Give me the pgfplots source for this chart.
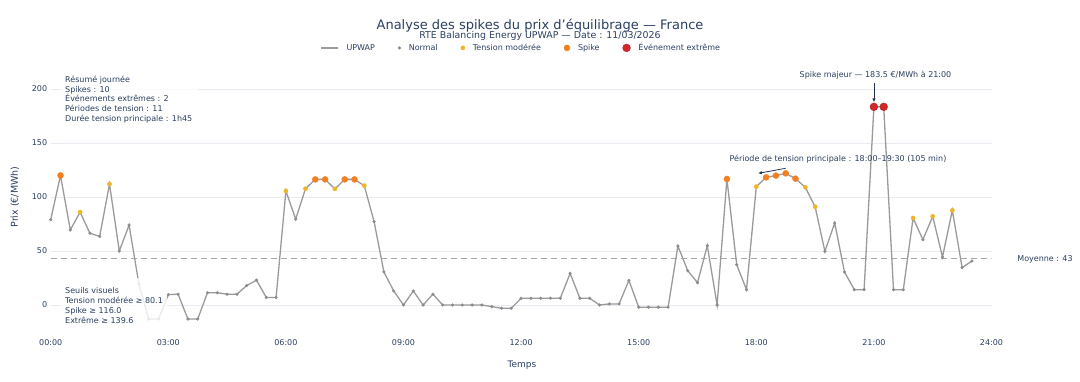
\documentclass[border=0pt]{standalone}
\usepackage{fontspec}
\setmainfont{DejaVu Sans}
\usepackage{pgfplots}
\pgfplotsset{compat=1.18}
\usepackage{pgfplotstable}
\usetikzlibrary{arrows.meta}
\definecolor{textc}{HTML}{2A3F5F}
\definecolor{gridc}{HTML}{E8ECF2}
\definecolor{linec}{HTML}{9A9A9A}
\definecolor{normc}{HTML}{8C8C8C}
\definecolor{tensc}{HTML}{F0B429}
\definecolor{spikec}{HTML}{F57F1E}
\definecolor{extc}{HTML}{D62728}
\definecolor{extd}{HTML}{A81E1E}
\definecolor{meanc}{HTML}{A8A8A8}

\pgfplotstableread{
t v c
0.00 79 n
0.25 120 s
0.50 69.5 n
0.75 86 t
1.00 66.5 n
1.25 63.5 n
1.50 112 t
1.75 50 n
2.00 74 n
2.25 19.5 n
2.50 -13 n
2.75 -13 n
3.00 9.6 n
3.25 10 n
3.50 -13 n
3.75 -13 n
4.00 11.4 n
4.25 11.4 n
4.50 10 n
4.75 10 n
5.00 18 n
5.25 23 n
5.50 7 n
5.75 7 n
6.00 105.6 t
6.25 79.5 n
6.50 107.7 t
6.75 116.3 s
7.00 116.3 s
7.25 107.5 t
7.50 116.3 s
7.75 116.3 s
8.00 110.5 t
8.25 77.2 n
8.50 30.6 n
8.75 13 n
9.00 0 n
9.25 13 n
9.50 0 n
9.75 10 n
10.00 0 n
10.25 0 n
10.50 0 n
10.75 0 n
11.00 0 n
11.25 -1.5 n
11.50 -3 n
11.75 -3 n
12.00 6.2 n
12.25 6.2 n
12.50 6.2 n
12.75 6.2 n
13.00 6.2 n
13.25 29.3 n
13.50 6.2 n
13.75 6.2 n
14.00 0 n
14.25 1 n
14.50 1 n
14.75 22.8 n
15.00 -2 n
15.25 -2 n
15.50 -2 n
15.75 -2 n
16.00 54.6 n
16.25 31.8 n
16.50 20.7 n
16.75 54.9 n
17.00 0 n
17.25 116.7 s
17.50 37.3 n
17.75 14.2 n
18.00 109.6 t
18.25 118.2 s
18.50 119.8 s
18.75 121.9 s
19.00 117 s
19.25 109 t
19.50 91 t
19.75 49.7 n
20.00 75.9 n
20.25 30.6 n
20.50 14.2 n
20.75 14.2 n
21.00 183.5 e
21.25 183.5 e
21.50 14.2 n
21.75 14.2 n
22.00 80.5 t
22.25 60.5 n
22.50 82.1 t
22.75 44.4 n
23.00 87.7 t
23.25 34.6 n
23.50 40.7 n
}\upwap

\begin{document}
\begin{tikzpicture}
\path[use as bounding box] (0pt,0pt) rectangle (1080pt,381pt);
\begin{axis}[
  at={(50.7pt,49pt)}, anchor=south west, scale only axis,
  width=940.8pt, height=259.2pt,
  xmin=0, xmax=24, ymin=-25, ymax=215,
  axis line style={draw=none}, tick style={draw=none},
  xtick={0,3,...,24},
  xticklabels={00:00,03:00,06:00,09:00,12:00,15:00,18:00,21:00,24:00},
  ytick={0,50,100,150,200},
  ymajorgrids, grid style={gridc, line width=0.8pt},
  tick label style={font=\fontsize{8}{9.6}\selectfont, text=textc},
  xticklabel style={yshift=-4pt},
  /pgf/number format/assume math mode=true,
  legend columns=5,
  legend style={draw=none, fill=none, at={(0.5,1.096)}, anchor=center,
    font=\fontsize{8}{9.6}\selectfont, text=textc,
    /tikz/every odd column/.append style={column sep=6pt},
    /tikz/every even column/.append style={column sep=21pt}},
]
\addplot[meanc, line width=0.9pt, dash pattern=on 6pt off 4pt, forget plot] coordinates {(0,43) (24,43)};
\addplot[linec, line width=1.3pt, no markers, forget plot] table[x=t,y=v]{\upwap};
\addplot[scatter, only marks, scatter src=explicit symbolic, forget plot,
  scatter/classes={
    n={mark=*, mark size=1.4pt, draw=normc, fill=normc},
    t={mark=*, mark size=2.1pt, draw=tensc, fill=tensc},
    s={mark=*, mark size=3pt, draw=spikec, fill=spikec},
    e={mark=*, mark size=3.9pt, draw=extd, fill=extc}}
  ] table[x=t,y=v,meta=c]{\upwap};
\addlegendimage{linec, line width=1.3pt}
\addlegendentry{UPWAP}
\addlegendimage{only marks, mark=*, mark size=1.4pt, draw=normc, fill=normc}
\addlegendentry{Normal}
\addlegendimage{only marks, mark=*, mark size=2.1pt, draw=tensc, fill=tensc}
\addlegendentry{Tension modérée}
\addlegendimage{only marks, mark=*, mark size=3pt, draw=spikec, fill=spikec}
\addlegendentry{Spike}
\addlegendimage{only marks, mark=*, mark size=3.9pt, draw=extd, fill=extc}
\addlegendentry{Événement extrême}
\end{axis}

% annotation boxes (semi-transparent white)
\fill[white, fill opacity=0.8] (60pt,310pt) rectangle (198pt,254pt);
\fill[white, fill opacity=0.8] (60pt,103pt) rectangle (167pt,52pt);

% titles
\node[anchor=base, text=textc, font=\fontsize{13}{15}\selectfont, inner sep=0pt] at (540pt,351.7pt) {Analyse des spikes du prix d’équilibrage — France};
\node[anchor=base, text=textc, font=\fontsize{9.4}{11}\selectfont, inner sep=0pt] at (540pt,342.7pt) {RTE Balancing Energy UPWAP — Date : 11/03/2026};

% axis titles
\node[rotate=90, text=textc, font=\fontsize{9.5}{11}\selectfont] at (15pt,184pt) {Prix (€/MWh)};
\node[text=textc, font=\fontsize{9}{11}\selectfont] at (522pt,16pt) {Temps};

% summary annotation
\node[anchor=north west, align=left, inner sep=0pt, text=textc, font=\fontsize{8}{9.8}\selectfont] at (65pt,305.2pt)
 {Résumé journée\\Spikes : 10\\Événements extrêmes : 2\\Périodes de tension : 11\\Durée tension principale : 1h45};

% thresholds annotation
\node[anchor=north west, align=left, inner sep=0pt, text=textc, font=\fontsize{8}{10}\selectfont] at (65pt,93.5pt)
 {Seuils visuels\\Tension modérée ≥ 80.1\\Spike ≥ 116.0\\Extrême ≥ 139.6};

% mean label
\node[text=textc, font=\fontsize{8}{9.6}\selectfont] at (1045pt,122pt) {Moyenne : 43};

% spike majeur
\node[text=textc, font=\fontsize{8}{9.6}\selectfont] at (875.5pt,306pt) {Spike majeur — 183.5 €/MWh à 21:00};
\draw[textc!80!black, line width=0.8pt, -{Latex[length=3.5pt,width=3.5pt]}] (874pt,298pt) -- (874pt,279pt);

% tension period
\node[text=textc, font=\fontsize{8}{9.6}\selectfont] at (838pt,222pt) {Période de tension principale : 18:00–19:30 (105 min)};
\draw[textc!80!black, line width=0.8pt, -{Latex[length=3.5pt,width=3.5pt]}] (785.7pt,212.7pt) -- (758.3pt,207.7pt);
\end{tikzpicture}
\end{document}
